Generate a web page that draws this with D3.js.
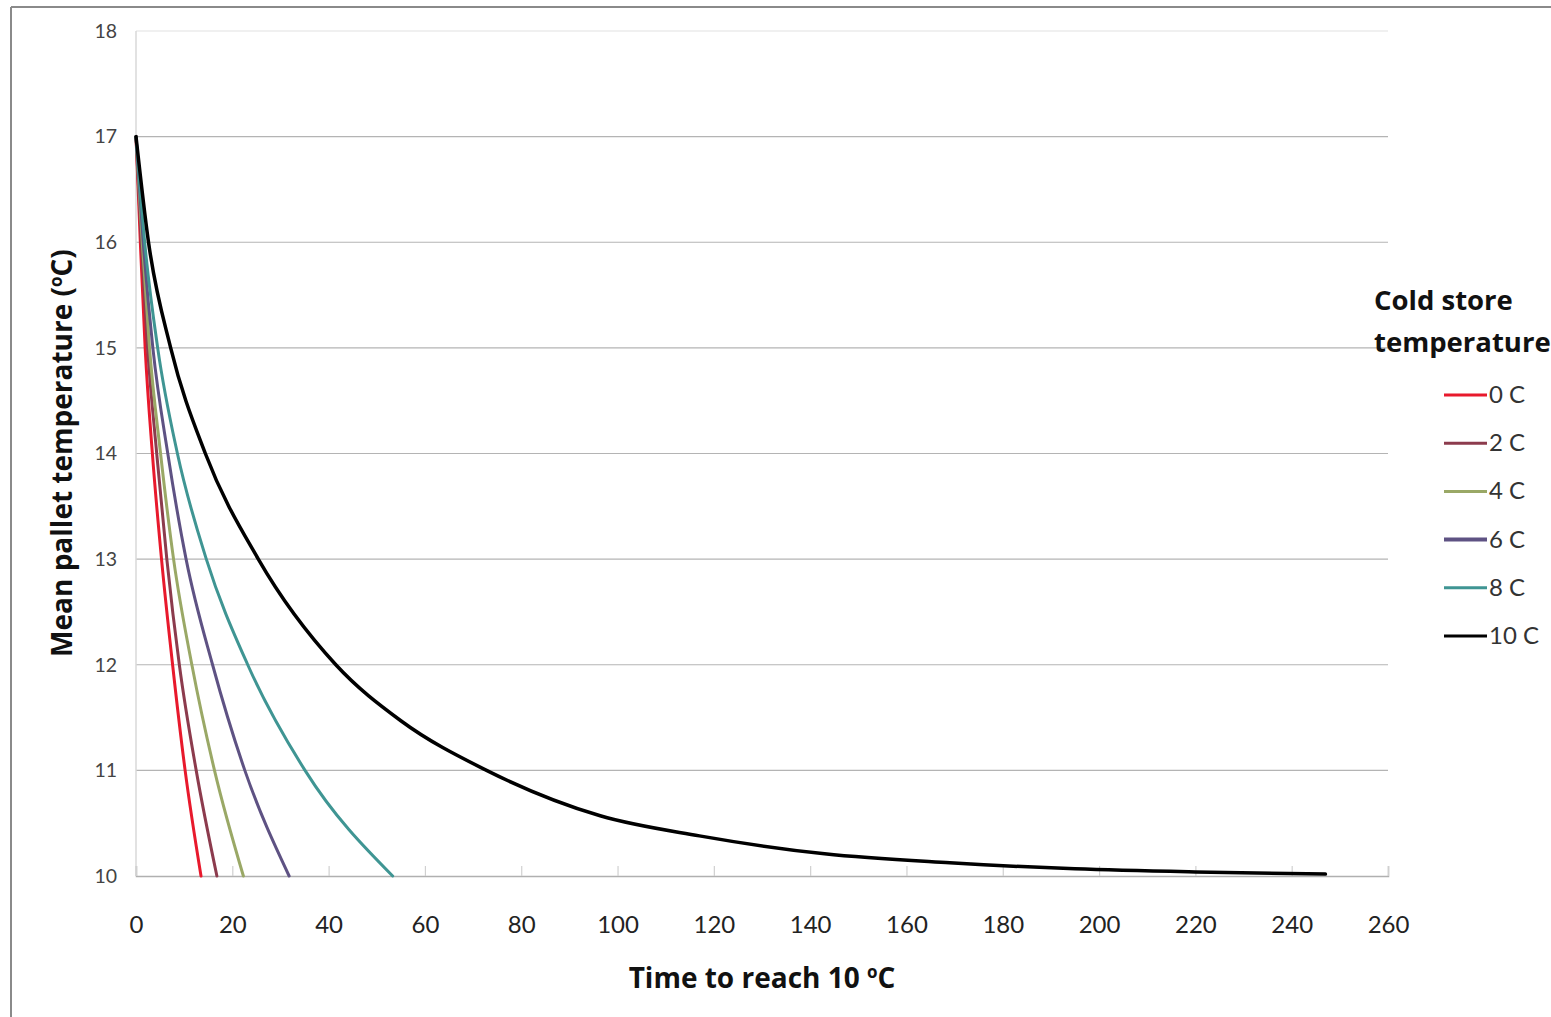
<!DOCTYPE html>
<html>
<head>
<meta charset="utf-8">
<script src="https://cdn.jsdelivr.net/npm/d3@7"></script>
<style>
  html, body { margin: 0; padding: 0; background: #fff; }
  svg { display: block; }
  text { font-family: Lato, "Noto Sans", sans-serif; }
</style>
</head>
<body>
<svg id="chart" width="1551" height="1017"></svg>
<script>
// ---- data ----
const seriesNames = ["0 C", "2 C", "4 C", "6 C", "8 C", "10 C"];
const seriesColors = ["#e8192c", "#8c3b4d", "#9aa866", "#5e5283", "#3f9593", "#000000"];

// [time, mean pallet temperature]
const s0 = [[0,17],[0.9,16],[1.9,15],[3.4,14],[5.3,13],[7.6,12],[10.2,11],[13.5,10]];
const s2 = [[0,17],[1.1,16],[2.4,15],[4.3,14],[6.4,13],[9.0,12],[12.5,11],[16.8,10]];
const s4 = [[0,17],[1.3,16],[2.8,15],[5.1,14],[7.8,13],[11.6,12],[16.3,11],[22.3,10]];
const s6 = [[0,17],[1.5,16],[3.5,15],[6.6,14],[10.4,13],[15.9,12],[22.6,11],[31.8,10]];
const s8 = [[0,17],[1.8,16],[4.5,15],[8.6,14],[14.6,13],[23.2,12],[35.1,11],[53.3,10]];
const s10 = [[0,17],[2.6,16],[7.2,15],[14.4,14],[25.4,13],[41.5,12],[55,11.47],[72.8,11],[96.4,10.57],[117,10.38],[143,10.21],[169,10.125],[195,10.068],[220,10.038],[247,10.018]];
const seriesData = [s0, s2, s4, s6, s8, s10];

const xTicks = [0,20,40,60,80,100,120,140,160,180,200,220,240,260];
const yTicks = [10,11,12,13,14,15,16,17,18];

// ---- layout ----
const svg = d3.select("#chart");
const W = 1551, H = 1017;
const plot = {left: 136, right: 1388, top: 31, bottom: 876};

const x = d3.scaleLinear().domain([0, 260]).range([plot.left, plot.right]);
const y = d3.scaleLinear().domain([10, 18]).range([plot.bottom, plot.top]);

// outer frame
svg.append("line").attr("x1", 11).attr("x2", 11).attr("y1", 7).attr("y2", H)
  .attr("stroke", "#8a8a8a").attr("stroke-width", 2);
svg.append("line").attr("x1", 11).attr("x2", W).attr("y1", 7).attr("y2", 7)
  .attr("stroke", "#8a8a8a").attr("stroke-width", 2);

// gridlines
svg.append("g").selectAll("line").data(yTicks.filter(v => v > 10)).join("line")
  .attr("x1", plot.left).attr("x2", plot.right)
  .attr("y1", d => y(d)).attr("y2", d => y(d))
  .attr("stroke", d => d === 18 ? "#e2e2e2" : "#b4b4b4")
  .attr("stroke-width", 1.2);

// left axis line
svg.append("line").attr("x1", plot.left).attr("x2", plot.left)
  .attr("y1", plot.top).attr("y2", plot.bottom)
  .attr("stroke", "#d8d8d8").attr("stroke-width", 1.5);

// y axis labels
const yAxis = d3.axisLeft(y).tickValues(yTicks).tickSize(0).tickPadding(19);
const gy = svg.append("g").attr("transform", `translate(${plot.left},0)`).call(yAxis);
gy.select(".domain").remove();
gy.selectAll("text").attr("font-size", 19.5).attr("fill", "#444")
  .style("font-family", "Lato, 'Noto Sans', sans-serif");

// x axis (ticks pointing up into plot)
const xAxis = d3.axisBottom(x).tickValues(xTicks).tickSize(-10).tickPadding(0);
const gx = svg.append("g").attr("transform", `translate(0,${plot.bottom})`).call(xAxis);
gx.select(".domain").attr("stroke", "#b0b0b0").attr("stroke-width", 1.5);
gx.selectAll(".tick line").attr("stroke", "#d0d0d0").attr("stroke-width", 1.2);
gx.selectAll("text").attr("font-size", 24).attr("fill", "#222").attr("y", 57)
  .attr("dy", 0)
  .style("font-family", "Lato, 'Noto Sans', sans-serif");

// series lines
const line = d3.line().x(d => x(d[0])).y(d => y(d[1])).curve(d3.curveMonotoneX);
svg.append("g").selectAll("path").data(seriesData).join("path")
  .attr("d", d => line(d))
  .attr("fill", "none")
  .attr("stroke", (d, i) => seriesColors[i])
  .attr("stroke-width", (d, i) => i === 5 ? 3.5 : 3)
  .attr("stroke-linejoin", "round")
  .attr("stroke-linecap", "round");

// axis titles
const titleFont = "'Open Sans', Lato, sans-serif";
const xt = svg.append("text").attr("x", 762).attr("y", 988)
  .attr("text-anchor", "middle").attr("font-size", 28).attr("font-weight", "bold").attr("fill", "#111")
  .style("font-family", titleFont);
xt.append("tspan").text("Time to reach 10 ");
xt.append("tspan").text("o").attr("font-size", 17).attr("dy", -10);
xt.append("tspan").text("C").attr("dy", 10);

const yt = svg.append("text").attr("transform", "translate(72,453) rotate(-90)")
  .attr("text-anchor", "middle").attr("font-size", 28).attr("font-weight", "bold").attr("fill", "#111")
  .style("font-family", titleFont);
yt.append("tspan").text("Mean pallet temperature (");
yt.append("tspan").text("o").attr("font-size", 17).attr("dy", -10);
yt.append("tspan").text("C)").attr("dy", 10);

// legend
const lg = svg.append("g");
lg.append("text").attr("x", 1374).attr("y", 310).attr("font-size", 27.5).attr("font-weight", "bold")
  .attr("fill", "#111").style("font-family", titleFont).text("Cold store");
lg.append("text").attr("x", 1374).attr("y", 352).attr("font-size", 27.5).attr("font-weight", "bold")
  .attr("fill", "#111").style("font-family", titleFont).text("temperature");
const legendY = d3.scalePoint().domain(seriesNames).range([395, 636]);
const items = lg.selectAll("g.item").data(seriesNames).join("g").attr("class", "item")
  .attr("transform", d => `translate(0,${legendY(d)})`);
items.append("line").attr("x1", 1444).attr("x2", 1487).attr("y1", 0).attr("y2", 0)
  .attr("stroke", (d, i) => seriesColors[i]).attr("stroke-width", (d, i) => i === 3 ? 4 : 3);
items.append("text").attr("x", 1489).attr("y", 8).attr("font-size", 24).attr("fill", "#333").text(d => d);
</script>
</body>
</html>
